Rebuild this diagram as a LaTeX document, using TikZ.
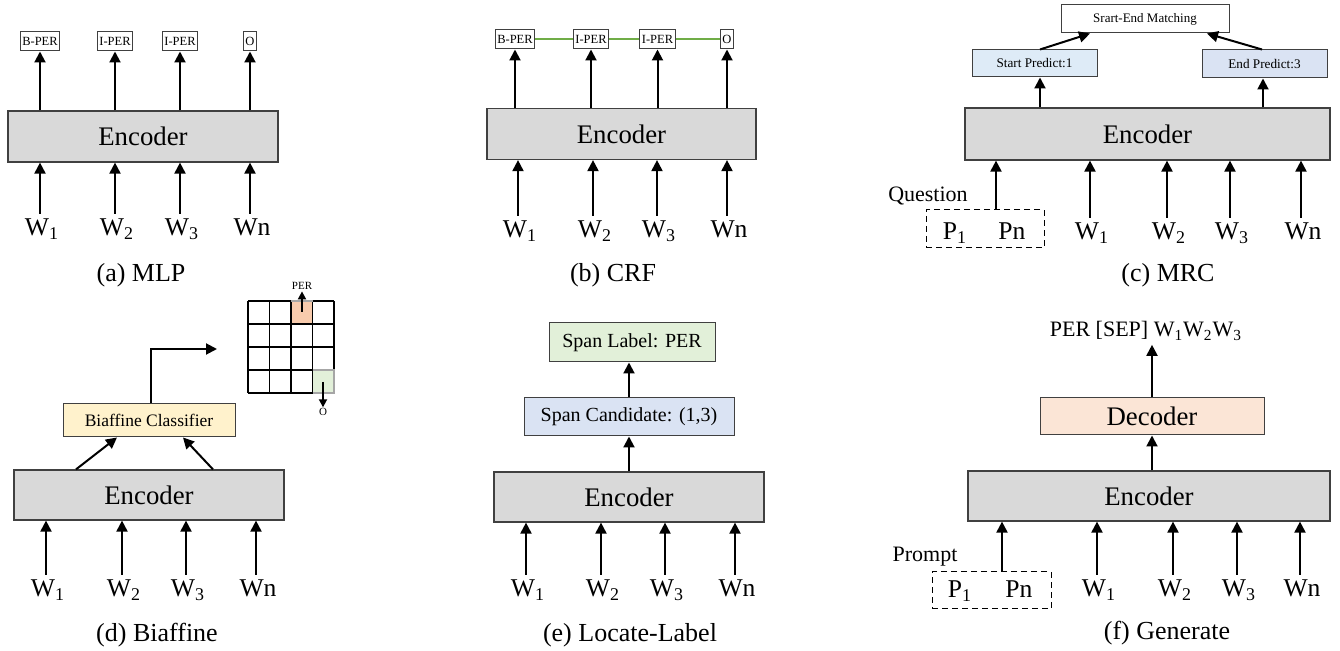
\documentclass[tikz,border=0pt]{standalone}
\usepackage{fontspec}
\setmainfont{Liberation Serif}
\usetikzlibrary{arrows.meta}
\definecolor{encgray}{HTML}{D9D9D9}
\definecolor{bordc}{HTML}{404040}
\definecolor{crfgreen}{HTML}{70AD47}
\definecolor{startblue}{HTML}{DEEBF7}
\definecolor{endblue}{HTML}{DAE3F3}
\definecolor{lgreen}{HTML}{E2F0D9}
\definecolor{lyellow}{HTML}{FFF2CC}
\definecolor{lorange}{HTML}{FBE5D6}
\definecolor{corange}{HTML}{F8CBAD}
\begin{document}
\begin{tikzpicture}[x=0.5pt,y=-0.5pt,
  arr/.style={line width=1pt,-{Triangle[length=5.5pt,width=5.5pt]}},
  sarr/.style={line width=0.9pt,-{Triangle[length=4pt,width=4pt]}},
  enc/.style={draw=bordc,line width=0.6pt,fill=encgray,inner sep=0pt,minimum height=25.5pt,font=\fontsize{13.4pt}{15pt}\selectfont},
  tag/.style={draw=bordc,line width=0.5pt,fill=white,inner xsep=1pt,inner ysep=0pt,minimum height=9.5pt,font=\fontsize{6.25pt}{7pt}\selectfont},
  sbox/.style={draw=bordc,line width=0.5pt,inner sep=0pt},
  wl/.style={anchor=base,inner xsep=1pt,inner ysep=2.5pt,font=\fontsize{12.8pt}{14pt}\selectfont},
  captxt/.style={anchor=base,font=\fontsize{13pt}{15pt}\selectfont},
  qlab/.style={anchor=base,font=\fontsize{11pt}{13pt}\selectfont},
  dbox/.style={draw=black,line width=0.5pt,dash pattern=on 3pt off 2pt,inner sep=0pt},
  gline/.style={crfgreen,line width=1pt},
  cell/.style={draw=black,line width=0.6pt}
]
\useasboundingbox (0,0) rectangle (1340,651);

% ---------------- (a) MLP ----------------
\node[enc,minimum width=135pt] (ea) at (143,136.5) {Encoder};
\foreach \x/\lab [count=\i] in {40/B-PER,115/I-PER,180/I-PER,250/O} {
  \node[tag] (ta\i) at (\x,41.5) {\lab};
  \draw[arr] (ta\i.south |- ea.north) -- (ta\i.south);
}
\foreach \x/\lab [count=\i] in {42/W\textsubscript{1},117/W\textsubscript{2},182/W\textsubscript{3},252/Wn} {
  \node[wl] (wa\i) at (\x,236) {\lab};
  \draw[arr] ([xshift=-1pt]wa\i.north) -- ([xshift=-1pt]wa\i.north |- ea.south);
}
\node[captxt] (capa) at (141,282) {(a) MLP};

% ---------------- (b) CRF ----------------
\node[enc,minimum width=134.5pt] (eb) at (621.5,134) {Encoder};
\foreach \x/\lab [count=\i] in {515/B-PER,591/I-PER,657.5/I-PER,727/O} {
  \node[tag] (tb\i) at (\x,39.5) {\lab};
  \draw[arr] (tb\i.south |- eb.north) -- (tb\i.south);
}
\draw[gline] (tb1.east) -- (tb2.west);
\draw[gline] (tb2.east) -- (tb3.west);
\draw[gline] (tb3.east) -- (tb4.west);
\foreach \x/\lab [count=\i] in {520/W\textsubscript{1},595/W\textsubscript{2},659/W\textsubscript{3},729/Wn} {
  \node[wl] (wb\i) at (\x,238) {\lab};
  \draw[arr] ([xshift=-1pt]wb\i.north) -- ([xshift=-1pt]wb\i.north |- eb.south);
}
\node[captxt] (capb) at (613,282) {(b) CRF};

% ---------------- (c) MRC ----------------
\node[enc,minimum width=182.5pt,minimum height=26pt] (ec) at (1147.5,134) {Encoder};
\node[sbox,fill=white,minimum width=84pt,minimum height=14pt,font=\fontsize{6.5pt}{8pt}\selectfont] (sem) at (1145,19) {Srart-End Matching};
\node[sbox,fill=startblue,minimum width=62.5pt,minimum height=13.5pt,font=\fontsize{6.6pt}{8pt}\selectfont] (spc) at (1034.5,63.5) {Start Predict:1};
\node[sbox,fill=endblue,minimum width=62.5pt,minimum height=14pt,font=\fontsize{6.6pt}{8pt}\selectfont] (epc) at (1264.5,64) {End Predict:3};
\draw[arr] ([xshift=2.75pt]spc.north) -- ([xshift=-27.5pt]sem.south);
\draw[arr] ([xshift=-1.25pt]epc.north) -- ([xshift=31pt]sem.south);
\draw[arr] ([xshift=2.75pt]spc.south |- ec.north) -- ([xshift=2.75pt]spc.south);
\draw[arr] ([xshift=-0.75pt]epc.south |- ec.north) -- ([xshift=-0.75pt]epc.south);
\node[qlab] (qlab) at (928,202) {Question};
\node[dbox,minimum width=59pt,minimum height=19pt] (qbox) at (985,229) {};
\node[wl] (qp1) at (955,240) {P\textsubscript{1}};
\node[wl] (qpn) at (1012,240) {Pn};
\draw[arr] ([xshift=5.5pt]qbox.north) -- ([xshift=5.5pt]qbox.north |- ec.south);
\foreach \x/\lab [count=\i] in {1092/W\textsubscript{1},1169/W\textsubscript{2},1232/W\textsubscript{3},1303/Wn} {
  \node[wl] (wc\i) at (\x,240) {\lab};
  \draw[arr] ([xshift=-1pt]wc\i.north) -- ([xshift=-1pt]wc\i.north |- ec.south);
}
\node[captxt] (capc) at (1168,282) {(c) MRC};

% ---------------- (d) Biaffine ----------------
\node[enc,minimum width=135pt,minimum height=25pt] (ed) at (149,495) {Encoder};
\node[sbox,fill=lyellow,minimum width=86pt,minimum height=16.5pt,font=\fontsize{8.75pt}{10pt}\selectfont] (bc) at (149,420.5) {Biaffine Classifier};
\draw[arr] ([xshift=-36.5pt]ed.north) -- ([xshift=-16pt]bc.south);
\draw[arr] ([xshift=32pt]ed.north) -- ([xshift=17pt]bc.south);
\coordinate (elb) at (217,349);
\draw[arr] ([xshift=1pt]bc.north) |- (elb);
% grid
\fill[corange] (291,301) rectangle (312.5,324);
\fill[lgreen] (312.5,370) rectangle (334,393);
\foreach \k in {0,1,2,3,4} {
  \draw[cell] (248+21.5*\k,301) -- (248+21.5*\k,393);
  \draw[cell] (248,301+23*\k) -- (334,301+23*\k);
}
\draw[draw=gray!70,line width=0.6pt] (291,301) -- (312.5,301);
\draw[draw=gray!70,line width=0.6pt] (312.5,370) -- (334,370) -- (334,393) -- (312.5,393);
\coordinate (percell) at (302,312);
\coordinate (ocell) at (323,382);
\node[font=\fontsize{5.5pt}{6pt}\selectfont,inner sep=0.5pt,anchor=base] (perl) at (302,290) {PER};
\node[font=\fontsize{5.5pt}{6pt}\selectfont,inner sep=0.5pt,anchor=base] (ol) at (323,416) {O};
\draw[sarr] (percell) -- (perl.south);
\draw[sarr] (ocell) -- (ol.north);
\foreach \x/\lab [count=\i] in {48/W\textsubscript{1},124/W\textsubscript{2},188/W\textsubscript{3},258/Wn} {
  \node[wl] (wd\i) at (\x,597) {\lab};
  \draw[arr] ([xshift=-1pt]wd\i.north) -- ([xshift=-1pt]wd\i.north |- ed.south);
}
\node[captxt] (capd) at (157,642) {(d) Biaffine};

% ---------------- (e) Locate-Label ----------------
\node[enc,minimum width=135pt,minimum height=25pt] (ee) at (629,497) {Encoder};
\node[sbox,fill=endblue,minimum width=105pt,minimum height=19pt,font=\fontsize{10pt}{12pt}\selectfont] (scand) at (629,417) {Span Candidate: (1,3)};
\node[sbox,fill=lgreen,minimum width=83pt,minimum height=19.5pt,font=\fontsize{10pt}{12pt}\selectfont] (slab) at (632,342.5) {Span Label: PER};
\draw[arr] (ee.north) -- (scand.south);
\draw[arr] (scand.north) -- (scand.north |- slab.south);
\foreach \x/\lab [count=\i] in {528/W\textsubscript{1},603/W\textsubscript{2},667/W\textsubscript{3},737/Wn} {
  \node[wl] (we\i) at (\x,597) {\lab};
  \draw[arr] ([xshift=-1pt]we\i.north) -- ([xshift=-1pt]we\i.north |- ee.south);
}
\node[captxt] (cape) at (630,642) {(e) Locate-Label};

% ---------------- (f) Generate ----------------
\node[enc,minimum width=181pt,minimum height=25pt] (ef) at (1149,496) {Encoder};
\node[sbox,fill=lorange,minimum width=112pt,minimum height=18.5pt,font=\fontsize{13.4pt}{15pt}\selectfont] (dec) at (1152,416.5) {Decoder};
\node[anchor=base,inner sep=2pt,font=\fontsize{11pt}{13pt}\selectfont] (gout) at (1146,337) {PER [SEP] W\textsubscript{1}W\textsubscript{2}W\textsubscript{3}};
\draw[arr] (dec.south |- ef.north) -- (dec.south);
\draw[arr] (dec.north) -- (dec.north |- gout.south);
\node[qlab] (plab) at (925,562) {Prompt};
\node[dbox,minimum width=59.5pt,minimum height=18.5pt] (pbox) at (991.5,590.5) {};
\node[wl] (pp1) at (960,598) {P\textsubscript{1}};
\node[wl] (ppn) at (1019,598) {Pn};
\draw[arr] ([xshift=5.25pt]pbox.north) -- ([xshift=5.25pt]pbox.north |- ef.south);
\foreach \x/\lab [count=\i] in {1099/W\textsubscript{1},1175/W\textsubscript{2},1239/W\textsubscript{3},1302/Wn} {
  \node[wl] (wf\i) at (\x,597) {\lab};
  \draw[arr] ([xshift=-1pt]wf\i.north) -- ([xshift=-1pt]wf\i.north |- ef.south);
}
\node[captxt] (capf) at (1167,640) {(f) Generate};
\end{tikzpicture}
\end{document}
